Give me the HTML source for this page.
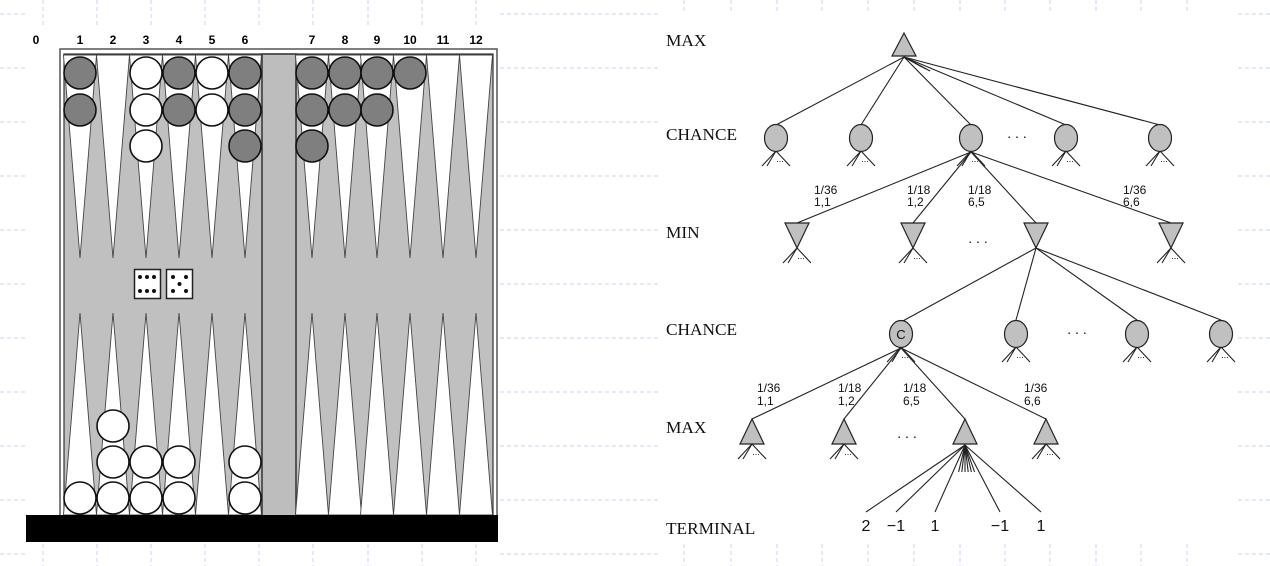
<!DOCTYPE html>
<html><head><meta charset="utf-8"><title>Backgammon expectiminimax</title>
<style>html,body{margin:0;padding:0;background:#fff;}svg{display:block;}</style></head>
<body>
<svg id="root" width="1270" height="566" viewBox="0 0 1270 566" xmlns="http://www.w3.org/2000/svg">
<g id="grid" stroke="#c9d2f2" stroke-width="1" stroke-dasharray="4,3" fill="none"></g>
<g id="board"></g>
<g id="tree"></g>
</svg>
<script>
var NS='http://www.w3.org/2000/svg';
function mk(tag,attrs,parent){var e=document.createElementNS(NS,tag);for(var k in attrs)e.setAttribute(k,attrs[k]);parent.appendChild(e);return e;}
var grid=document.getElementById('grid'),board=document.getElementById('board'),tree=document.getElementById('tree');

var gridYs=[14,68,122,176,230,284,338,392,446,500,554];
gridYs.forEach(function(y){
  mk('line',{x1:0,y1:y,x2:25,y2:y},grid);
  mk('line',{x1:500,y1:y,x2:660,y2:y},grid);
  mk('line',{x1:1238,y1:y,x2:1270,y2:y},grid);
});
var gridXsL=[43,97,151,205,259,313,368,422,476];
gridXsL.forEach(function(x){mk('line',{x1:x,y1:0,x2:x,y2:28},grid);mk('line',{x1:x,y1:544,x2:x,y2:566},grid);});
var gridXsR=[684,731,777,822,868,914,960,1005,1050,1096,1141,1187];
gridXsR.forEach(function(x){mk('line',{x1:x,y1:0,x2:x,y2:12},grid);mk('line',{x1:x,y1:544,x2:x,y2:566},grid);});

var pointLabels=['1','2','3','4','5','6','7','8','9','10','11','12'];
var pointX=[80,113,146,179,212,245,312,345,377,410,443,476];
var topStacks=[['d',2],null,['w',3],['d',2],['w',2],['d',3],['d',3],['d',2],['d',2],['d',1],null,null];
var bottomStacks=[['w',1],['w',3],['w',2],['w',2],null,['w',2],null,null,null,null,null,null];

mk('rect',{x:60,y:49,width:437,height:470,fill:'#fff',stroke:'#555','stroke-width':1.5},board);
var bg=mk('rect',{x:64,y:54,width:429,height:462,fill:'#c0c0c0',stroke:'#333','stroke-width':1.2},board);

var bar=mk('rect',{x:262,y:54,width:34,height:462,fill:'#bdbdbd',stroke:'#333','stroke-width':1.5},board);


var lbl0=mk('text',{x:36,y:44,'font-family':'Liberation Sans, sans-serif','font-size':12,'font-weight':'bold','text-anchor':'middle'},board);
lbl0.textContent='0';


pointLabels.forEach(function(l,i){
  var x=pointX[i];
  var t=mk('text',{x:x,y:44,'font-family':'Liberation Sans, sans-serif','font-size':12,'font-weight':'bold','text-anchor':'middle'},board);
  t.textContent=l;
  
  
  var tp=mk('polygon',{points:(x-16.5)+',55 '+(x+16.5)+',55 '+x+',258',fill:'#fff',stroke:'#444','stroke-width':0.9},board);
  
  
  var bp=mk('polygon',{points:(x-16.5)+',515 '+(x+16.5)+',515 '+x+',313',fill:'#fff',stroke:'#444','stroke-width':0.9},board);
  
  
});
var topY=[73,110,146],botY=[498,462,426];
function drawStacks(stacks,ys){
  stacks.forEach(function(s,i){
    if(!s)return;
    for(var k=0;k<s[1];k++){
      var c=mk('circle',{cx:pointX[i],cy:ys[k],r:16,fill:s[0]==='d'?'#7f7f7f':'#fff',stroke:'#111','stroke-width':1.6},board);
      
      
    }
  });
}
drawStacks(topStacks,topY);drawStacks(bottomStacks,botY);
var base=mk('rect',{x:26,y:515,width:472,height:27,fill:'#000'},board);


var d1=mk('rect',{x:134.5,y:269.5,width:26,height:29,fill:'#fff',stroke:'#222','stroke-width':1.5},board);

[[140,277],[147,277],[154,277],[140,291],[147,291],[154,291]].forEach(function(p){mk('circle',{cx:p[0],cy:p[1],r:2,fill:'#111'},board);});
var d2=mk('rect',{x:166.5,y:269.5,width:26,height:29,fill:'#fff',stroke:'#222','stroke-width':1.5},board);

[[173,277],[186,277],[179.5,284],[173,291],[186,291]].forEach(function(p){mk('circle',{cx:p[0],cy:p[1],r:2,fill:'#111'},board);});

var levelNames=['MAX','CHANCE','MIN','CHANCE','MAX','TERMINAL'];
var levelY=[46,140,238,335,433,534];
var chance1X=[776,861,971,1066,1160];
var min1X=[797,913,1036,1171];
var chance2X=[901,1016,1137,1221];
var max2X=[752,844,965,1046];
var probTop=['1/36','1/18','1/18','1/36'];
var probBot=['1,1','1,2','6,5','6,6'];
var prob1X=[814,907,968,1123];
var prob2X=[757,838,903,1024];
var termVals=['2','\u22121','1','\u22121','1'];
var termX=[866,896,935,1000,1041];

function line(x1,y1,x2,y2){mk('line',{x1:x1,y1:y1,x2:x2,y2:y2,stroke:'#222','stroke-width':1.1},tree);}
function txt(s,x,y,size,fam,anchor,name){var t=mk('text',{x:x,y:y,'font-family':fam,'font-size':size,'text-anchor':anchor||'start',fill:'#111'},tree);t.textContent=s;return t;}
function fan(x,y){line(x,y,x-14,y+15);line(x,y,x-9,y+15);line(x,y,x+14,y+15);txt('...',x+4,y+11,9,'Liberation Sans, sans-serif','middle','subtree-ellipsis');}
function chance(x,y,label){
  fan(x,y+13);
  var e=mk('ellipse',{cx:x,cy:y,rx:11.5,ry:13.5,fill:'#c0c0c0',stroke:'#222','stroke-width':1.2},tree);
  
  if(label)txt(label,x,y+5,13,'Liberation Sans, sans-serif','middle','chance-node-label');
}
function maxTri(x,top,bot,doFan){
  if(doFan)fan(x,bot);
  var p=mk('polygon',{points:x+','+top+' '+(x-12)+','+bot+' '+(x+12)+','+bot,fill:'#c0c0c0',stroke:'#222','stroke-width':1.2},tree);
  
}
function minTri(x,top,bot,doFan){
  if(doFan)fan(x,bot);
  var p=mk('polygon',{points:(x-12)+','+top+' '+(x+12)+','+top+' '+x+','+bot,fill:'#c0c0c0',stroke:'#222','stroke-width':1.2},tree);
  
}

levelNames.forEach(function(n,i){txt(n,666,levelY[i],17.3,'Liberation Serif, serif','start','level-label-'+n.toLowerCase());});

var rx=904,ry=57;
chance1X.forEach(function(x){line(rx,ry,x,125);});
[0,1,2].forEach(function(k){line(rx,ry,rx+18+k*4,ry+10+k*2);});
maxTri(904,33,56,false);
chance1X.forEach(function(x){chance(x,138);});
txt('. . .',1017,138,14,'Liberation Sans, sans-serif','middle','ellipsis');

min1X.forEach(function(x){line(971,152,x,223);});
probTop.forEach(function(p,i){txt(p,prob1X[i],194,12,'Liberation Sans, sans-serif','start','probability-label');txt(probBot[i],prob1X[i],206,12,'Liberation Sans, sans-serif','start','dice-roll-label');});
min1X.forEach(function(x,i){if(i!==2)minTri(x,223,248,true);});
txt('. . .',978,243,14,'Liberation Sans, sans-serif','middle','ellipsis');

chance2X.forEach(function(x,i){line(1036,248,x,i===0?322:320);});
minTri(1036,223,248,false);
chance2X.forEach(function(x,i){chance(x,334,i===0?'C':null);});
txt('. . .',1077,334,14,'Liberation Sans, sans-serif','middle','ellipsis');

max2X.forEach(function(x){line(901,348,x,419);});
probTop.forEach(function(p,i){txt(p,prob2X[i],392,12,'Liberation Sans, sans-serif','start','probability-label');txt(probBot[i],prob2X[i],405,12,'Liberation Sans, sans-serif','start','dice-roll-label');});
max2X.forEach(function(x,i){maxTri(x,419,444,i!==2);});
txt('. . .',907,438,14,'Liberation Sans, sans-serif','middle','ellipsis');

termX.forEach(function(x){line(965,445,x,512);});
[-4,-2,0,2,4,6].forEach(function(d){line(965,445,965+d*1.6,472);});
termVals.forEach(function(v,i){txt(v,termX[i],531,16,'Liberation Sans, sans-serif','middle','terminal-value');});
</script>
</body></html>
